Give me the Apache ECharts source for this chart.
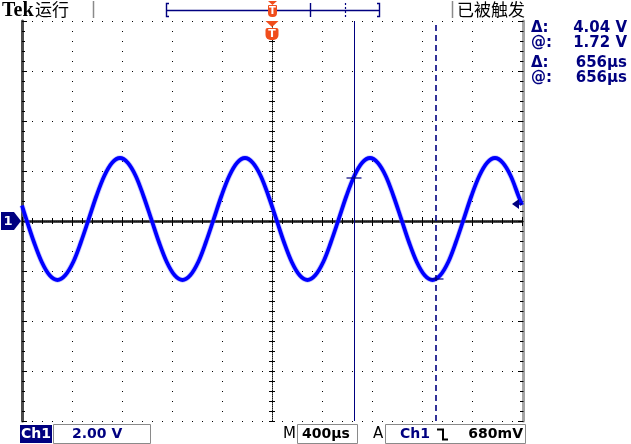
<!DOCTYPE html>
<html><head><meta charset="utf-8">
<script src="https://cdn.jsdelivr.net/npm/echarts@6/dist/echarts.min.js"></script>
<style>html,body{margin:0;padding:0;background:#fff}#c{width:631px;height:444px}</style>
</head><body><div id="c"></div>
<script>
// ---- data (time in µs relative to trigger, volts) ----
const timeUs = [-2000, -1966, -1904, -1841, -1779, -1716, -1654, -1591, -1529, -1466, -1404, -1341, -1279,
  -1216, -1154, -1091, -1029, -966, -904, -841, -779, -716, -654, -591, -529, -466, -404, -341, -279,
  -216, -154, -91, -29, 34, 96, 159, 221, 284, 346, 409, 471, 534, 596, 659, 721,
  784, 846, 909, 971, 1034, 1096, 1159, 1221, 1284, 1346, 1409, 1471, 1534, 1596, 1659, 1721,
  1784, 1846, 1909, 1971, 2000];
const voltsV = [0.62,
  0.08, -0.85, -1.65, -2.17, -2.36, -2.17, -1.65, -0.85,
  0.08, 1.01, 1.81, 2.33,
  2.52, 2.33, 1.81, 1.01, 0.08, -0.85, -1.65, -2.17, -2.36, -2.17, -1.65, -0.85, 0.08, 1.01, 1.81, 2.33,
  2.52, 2.33, 1.81, 1.01, 0.08, -0.85, -1.65, -2.17, -2.36, -2.17, -1.65, -0.85, 0.08, 1.01, 1.81, 2.33,
  2.52, 2.33, 1.81, 1.01, 0.08, -0.85, -1.65, -2.17, -2.36, -2.17, -1.65, -0.85, 0.08, 1.01, 1.81, 2.33,
  2.52, 2.33, 1.81, 1.01,
  0.64];
const cursorTimesUs = [656, 1312];
const cursorVolts = [1.72, -2.32];
const triggerTimeUs = 0;
const triggerLevelV = 0.68;
const groundV = 0;
const readoutLabels = ['Δ:', '@:', 'Δ:', '@:'];
const readoutValues = ['4.04 V', '1.72 V', '656µs', '656µs'];
const topTexts = ['Tek', '运行', '已被触发'];
const bottomTexts = ['Ch1', '2.00 V', 'M', '400µs', 'A', 'Ch1', '680mV'];

const NAVY = '#000080', ORANGE = '#f04d1c';
const chart = echarts.init(document.getElementById('c'), null, {renderer: 'canvas'});
const X = {min: -2000, max: 2000};
const Y = {min: -8, max: 8};
const hidden = {show: false};
const wave = timeUs.map((t, i) => [t, voltsV[i]]);

const option = {
  animation: false,
  backgroundColor: '#fff',
  grid: {left: 22, top: 21, width: 500, height: 400, containLabel: false},
  xAxis: [
    {type: 'value', ...X, interval: 400, position: 'bottom',
      axisLine: {show: true, lineStyle: {color: '#666', width: 2.5}},
      axisTick: {show: true, inside: true, length: 4, lineStyle: {color: '#000'}},
      minorTick: {show: true, splitNumber: 5, length: 3, lineStyle: {color: '#000'}},
      splitLine: {show: true, lineStyle: {color: '#000', width: 1, type: [1, 9]}},
      axisLabel: hidden},
    {type: 'value', ...X, interval: 400, position: 'top',
      axisLine: {show: true, lineStyle: {color: '#4a4a4a', width: 3}},
      axisTick: {show: true, inside: true, length: 5, lineStyle: {color: '#000'}},
      minorTick: {show: true, splitNumber: 5, length: 3, lineStyle: {color: '#000'}},
      splitLine: hidden, axisLabel: hidden},
    {type: 'value', ...X, interval: 80, position: 'bottom', offset: -200,
      axisLine: {show: true, onZero: false, lineStyle: {color: '#111', width: 1, type: [1, 1]}},
      axisTick: {show: true, inside: true, length: 3, lineStyle: {color: '#000'}},
      splitLine: hidden, axisLabel: hidden},
    {type: 'value', ...X, interval: 80, position: 'top', offset: -200,
      axisLine: {show: false, onZero: false},
      axisTick: {show: true, inside: true, length: 3, lineStyle: {color: '#000'}},
      splitLine: hidden, axisLabel: hidden}
  ],
  yAxis: [
    {type: 'value', ...Y, interval: 2, position: 'left',
      axisLine: {show: true, onZero: false, lineStyle: {color: '#4a4a4a', width: 3}},
      axisTick: {show: true, inside: true, length: 5, lineStyle: {color: '#000'}},
      minorTick: {show: true, splitNumber: 5, length: 3, lineStyle: {color: '#000'}},
      splitLine: {show: true, lineStyle: {color: '#000', width: 1, type: [1, 9]}},
      axisLabel: hidden},
    {type: 'value', ...Y, interval: 2, position: 'right', offset: 1.5,
      axisLine: {show: true, onZero: false, lineStyle: {color: '#a4a4a4', width: 3}},
      axisTick: {show: true, inside: true, length: 5.5, lineStyle: {color: '#000'}},
      minorTick: {show: true, splitNumber: 5, length: 3.5, lineStyle: {color: '#000'}},
      splitLine: hidden, axisLabel: hidden},
    {type: 'value', ...Y, interval: 0.4, position: 'left', offset: -250,
      axisLine: {show: true, onZero: false, lineStyle: {color: '#111', width: 1, type: [1, 1]}},
      axisTick: {show: true, inside: true, length: 3, lineStyle: {color: '#000'}},
      splitLine: hidden, axisLabel: hidden},
    {type: 'value', ...Y, interval: 0.4, position: 'right', offset: -250,
      axisLine: {show: false, onZero: false},
      axisTick: {show: true, inside: true, length: 3, lineStyle: {color: '#000'}},
      splitLine: hidden, axisLabel: hidden}
  ],
  series: [
    {type: 'line', data: wave, smooth: 0.35, showSymbol: false, silent: true, z: 3,
      lineStyle: {color: 'rgba(110,110,255,0.35)', width: 5.5}},
    {type: 'line', data: wave, smooth: 0.35, showSymbol: false, silent: true, z: 4,
      lineStyle: {color: '#0000ff', width: 3.8},
      markLine: {silent: true, symbol: ['none', 'none'], label: {show: false},
        data: cursorTimesUs.map((t, i) => ({xAxis: t,
          lineStyle: {color: NAVY, width: i === 0 ? 1 : 1.6, type: i === 0 ? 'solid' : [6, 4]}}))}},
    {type: 'scatter', z: 6, silent: true, symbol: 'rect', symbolSize: [15, 1.5],
      itemStyle: {color: NAVY},
      data: cursorTimesUs.map((t, i) => [t, cursorVolts[i]])}
  ]
};
chart.setOption(option);

const px = v => chart.convertToPixel({xAxisIndex: 0}, v);
const py = v => chart.convertToPixel({yAxisIndex: 0}, v);
const gY = py(groundV), tX = px(triggerTimeUs), tY = py(triggerLevelV);

const txt = (text, x, y, font, fill, align) => ({type: 'text', z: 100,
  style: {text, x, y, font, fill, align: align || 'left', verticalAlign: 'middle'}});
const ln = (x1, y1, x2, y2, stroke, w, dash) => ({type: 'line', z: 100,
  shape: {x1, y1, x2, y2}, style: {stroke, lineWidth: w || 1, lineDash: dash || null}});
const poly = (points, fill) => ({type: 'polygon', z: 100, shape: {points}, style: {fill}});
const polyline = (points, stroke, w) => ({type: 'polyline', z: 100, shape: {points}, style: {stroke, lineWidth: w, fill: null}});
const rect = (x, y, width, height, style, r) => ({type: 'rect', z: 100, shape: {x, y, width, height, r: r || 0}, style});

const RF = 'bold 15px "DejaVu Sans"', BF = 'bold 14px "DejaVu Sans"', CJK = '17px "Noto Sans CJK SC"';
const g = [];
// top bar
g.push(txt(topTexts[0], 2, 11, 'bold 20px "Liberation Serif"', '#000'));
g.push(txt(topTexts[1], 35, 10, CJK, '#000'));
g.push(ln(93.5, 1, 93.5, 18, '#8a8a8a', 1.5));
g.push(ln(452.5, 1, 452.5, 18, '#8a8a8a', 1.5));
g.push(txt(topTexts[2], 457, 10, CJK, '#000'));
g.push(polyline([[169, 3.5], [166.5, 3.5], [166.5, 16.5], [169, 16.5]], NAVY, 1.4));
g.push(ln(166.5, 10.5, 379.5, 10.5, NAVY, 1.4));
g.push(polyline([[377, 3.5], [379.5, 3.5], [379.5, 16.5], [377, 16.5]], NAVY, 1.4));
g.push(ln(310.5, 3, 310.5, 17, NAVY, 1.4));
g.push(ln(345.5, 3, 345.5, 17, NAVY, 1.2, [2, 2]));
// trigger position marker (top bar)
g.push(poly([[268, 1], [277, 1], [272.5, 5]], ORANGE));
g.push(rect(268, 5, 9, 12, {fill: ORANGE}, [1, 1, 4, 4]));
g.push(txt('T', tX + 0.5, 11, 'bold 10px "DejaVu Sans"', '#fff', 'center'));
// trigger position marker (under graticule top)
g.push(poly([[tX - 6.5, 21], [tX + 6.5, 21], [tX, 27]], ORANGE));
g.push(rect(tX - 6.5, 28, 13, 12, {fill: ORANGE}, [2, 2, 5, 5]));
g.push(txt('T', tX, 34, 'bold 11px "DejaVu Sans"', '#fff', 'center'));
// channel ground marker
g.push(poly([[1, gY - 9], [14, gY - 9], [21, gY], [14, gY + 9], [1, gY + 9]], NAVY));
g.push(txt('1', 8, gY + 0.5, 'bold 13px "DejaVu Sans"', '#fff', 'center'));
// trigger level marker
g.push(poly([[512, tY], [519, tY - 5], [519, tY + 5]], NAVY));
g.push(ln(518, tY, 522, tY, NAVY, 1.5));
// readouts
const rowY = [28, 43, 63, 78];
readoutLabels.forEach((l, i) => {
  g.push(txt(l, 531, rowY[i], RF, NAVY));
  g.push(txt(readoutValues[i], 627, rowY[i], RF, NAVY, 'right'));
});
// bottom bar
g.push(rect(20, 425, 32, 18, {fill: NAVY}));
g.push(txt(bottomTexts[0], 36, 434.5, BF, '#fff', 'center'));
g.push(rect(53.5, 424.5, 97, 19, {fill: null, stroke: '#8a8a8a', lineWidth: 1}));
g.push(txt(bottomTexts[1], 72, 434.5, BF, NAVY));
g.push(txt(bottomTexts[2], 283, 434.5, '15px "DejaVu Sans"', '#000'));
g.push(rect(297.5, 424.5, 60, 19, {fill: null, stroke: '#8a8a8a', lineWidth: 1}));
g.push(txt(bottomTexts[3], 302, 434.5, BF, '#000'));
g.push(txt(bottomTexts[4], 373, 434.5, '15px "DejaVu Sans"', '#000'));
g.push(rect(385.5, 424.5, 140, 19, {fill: null, stroke: '#8a8a8a', lineWidth: 1}));
g.push(txt(bottomTexts[5], 400, 434.5, BF, NAVY));
g.push(polyline([[437, 429.5], [443, 429.5], [443, 439.5], [448, 439.5]], '#000', 2));
g.push(txt(bottomTexts[6], 523, 434.5, BF, '#000', 'right'));

chart.setOption({graphic: g});
</script></body></html>
